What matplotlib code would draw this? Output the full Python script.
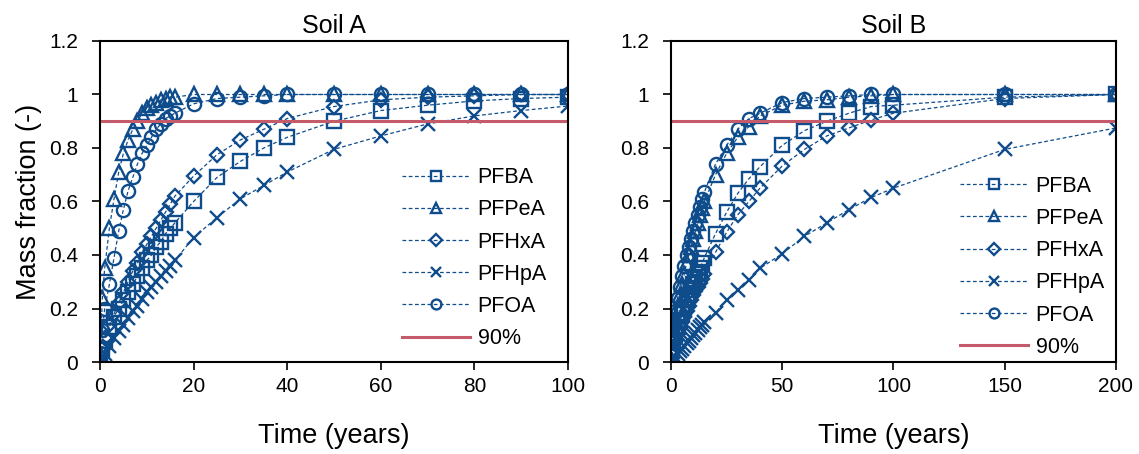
import matplotlib
matplotlib.use("Agg")
import matplotlib.pyplot as plt
from matplotlib.ticker import FuncFormatter

plt.rcParams['font.family'] = ['Liberation Sans', 'DejaVu Sans']

# ---- Soil A ----
t_a = [0, 0.5, 1, 2, 3, 4, 5, 6, 7, 8, 9, 10, 11, 12, 13, 14, 15, 16,
       20, 25, 30, 35, 40, 50, 60, 70, 80, 90, 100]
pfba_a = [0, 0.05, 0.08, 0.13, 0.17, 0.20, 0.23, 0.26, 0.29, 0.32, 0.35, 0.38, 0.40, 0.43, 0.45, 0.48, 0.50, 0.52,
          0.60, 0.69, 0.75, 0.80, 0.84, 0.90, 0.94, 0.96, 0.976, 0.985, 0.99]
pfpea_a = [0, 0.24, 0.35, 0.50, 0.61, 0.71, 0.78, 0.83, 0.87, 0.90, 0.93, 0.95, 0.96, 0.97, 0.98, 0.985, 0.99, 0.99,
           1.0, 1.0, 1.0, 1.0, 1.0, 1.0, 1.0, 1.0, 1.0, 1.0, 1.0]
pfhxa_a = [0, 0.05, 0.09, 0.14, 0.18, 0.22, 0.26, 0.30, 0.34, 0.37, 0.41, 0.44, 0.47, 0.50, 0.53, 0.56, 0.59, 0.62,
           0.695, 0.775, 0.83, 0.87, 0.91, 0.955, 0.98, 0.99, 0.995, 1.0, 1.0]
pfhpa_a = [0, 0.015, 0.03, 0.06, 0.09, 0.115, 0.14, 0.165, 0.19, 0.21, 0.235, 0.26, 0.28, 0.30, 0.32, 0.34, 0.36, 0.38,
           0.465, 0.54, 0.61, 0.66, 0.71, 0.795, 0.845, 0.89, 0.92, 0.94, 0.957]
pfoa_a = [0, 0.12, 0.20, 0.29, 0.39, 0.49, 0.57, 0.64, 0.69, 0.74, 0.78, 0.81, 0.84, 0.87, 0.89, 0.91, 0.92, 0.93,
          0.965, 0.985, 0.99, 0.995, 1.0, 1.0, 1.0, 1.0, 1.0, 1.0, 1.0]

# ---- Soil B ----
t_b = [0, 0.5, 1, 2, 3, 4, 5, 6, 7, 8, 9, 10, 11, 12, 13, 14, 15,
       20, 25, 30, 35, 40, 50, 60, 70, 80, 90, 100, 150, 200]
pfba_b = [0, 0.04, 0.07, 0.10, 0.13, 0.15, 0.18, 0.20, 0.23, 0.25, 0.27, 0.29, 0.31, 0.33, 0.35, 0.37, 0.39,
          0.48, 0.56, 0.63, 0.685, 0.73, 0.81, 0.865, 0.90, 0.93, 0.955, 0.96, 0.99, 1.0]
pfpea_b = [0, 0.08, 0.11, 0.16, 0.21, 0.25, 0.29, 0.33, 0.37, 0.40, 0.43, 0.46, 0.49, 0.52, 0.55, 0.575, 0.60,
           0.70, 0.78, 0.84, 0.88, 0.92, 0.96, 0.975, 0.98, 0.99, 0.995, 1.0, 1.0, 1.0]
pfhxa_b = [0, 0.03, 0.05, 0.08, 0.11, 0.13, 0.15, 0.17, 0.19, 0.21, 0.23, 0.25, 0.265, 0.28, 0.295, 0.31, 0.33,
           0.41, 0.485, 0.55, 0.60, 0.65, 0.733, 0.795, 0.845, 0.875, 0.905, 0.93, 0.985, 1.0]
pfhpa_b = [0, 0.005, 0.01, 0.02, 0.03, 0.04, 0.05, 0.06, 0.07, 0.08, 0.09, 0.10, 0.11, 0.12, 0.13, 0.14, 0.15,
           0.185, 0.23, 0.27, 0.305, 0.35, 0.405, 0.47, 0.52, 0.57, 0.615, 0.65, 0.795, 0.875]
pfoa_b = [0, 0.09, 0.13, 0.19, 0.24, 0.28, 0.32, 0.36, 0.40, 0.43, 0.46, 0.49, 0.52, 0.55, 0.58, 0.61, 0.635,
          0.74, 0.81, 0.87, 0.91, 0.93, 0.97, 0.985, 0.99, 0.995, 1.0, 1.0, 1.0, 1.0]

labels = ['PFBA', 'PFPeA', 'PFHxA', 'PFHpA', 'PFOA']
markers = ['s', '^', 'D', 'x', 'o']
threshold = 0.9

blue = '#0F4C8C'
red = '#C55A6B'


def draw_panel(ax, t, series, xmax, xticks, title, leg_anchor):
    for y, lab, m in zip(series, labels, markers):
        ms = 7.5 if m == 'D' else 9.5
        ax.plot(t, y, color=blue, linestyle=(0, (3, 2)), linewidth=0.9,
                marker=m, markersize=ms, markerfacecolor='none',
                markeredgecolor=blue, markeredgewidth=1.7, label=lab)
    ax.plot([0, xmax], [threshold, threshold], color=red, linewidth=2.2, label='90%')
    ax.set_xlim(0, xmax)
    ax.set_ylim(0, 1.2)
    ax.set_xticks(xticks)
    ax.set_yticks([0, 0.2, 0.4, 0.6, 0.8, 1.0, 1.2])
    ax.yaxis.set_major_formatter(FuncFormatter(lambda v, p: '%g' % v))
    ax.tick_params(direction='out', length=6, width=1.2, labelsize=15)
    ax.tick_params(axis='y', pad=10)
    ax.tick_params(axis='x', pad=5)
    for s in ax.spines.values():
        s.set_linewidth(1.5)
    ax.set_title(title, fontsize=18, pad=6)
    ax.set_xlabel('Time (years)', fontsize=19.5, labelpad=19)
    ax.legend(loc='upper left', bbox_to_anchor=leg_anchor, frameon=False,
              fontsize=15.5, handlelength=3.15, handletextpad=0.37,
              labelspacing=0.52, borderpad=0, borderaxespad=0,
              markerscale=0.75, numpoints=1)


fig = plt.figure(figsize=(11.39, 4.54), dpi=100)
ax_a = fig.add_axes([100 / 1139, 1 - 362 / 454, 468 / 1139, 321 / 454])
ax_b = fig.add_axes([671 / 1139, 1 - 362 / 454, 445 / 1139, 321 / 454])

draw_panel(ax_a, t_a, [pfba_a, pfpea_a, pfhxa_a, pfhpa_a, pfoa_a], 100,
           [0, 20, 40, 60, 80, 100], 'Soil A', (0.645, 0.607))
draw_panel(ax_b, t_b, [pfba_b, pfpea_b, pfhxa_b, pfhpa_b, pfoa_b], 200,
           [0, 50, 100, 150, 200], 'Soil B', (0.649, 0.58))
ax_a.set_ylabel('Mass fraction (-)', fontsize=19.5, labelpad=5)

fig.savefig('out.png', dpi=100)
